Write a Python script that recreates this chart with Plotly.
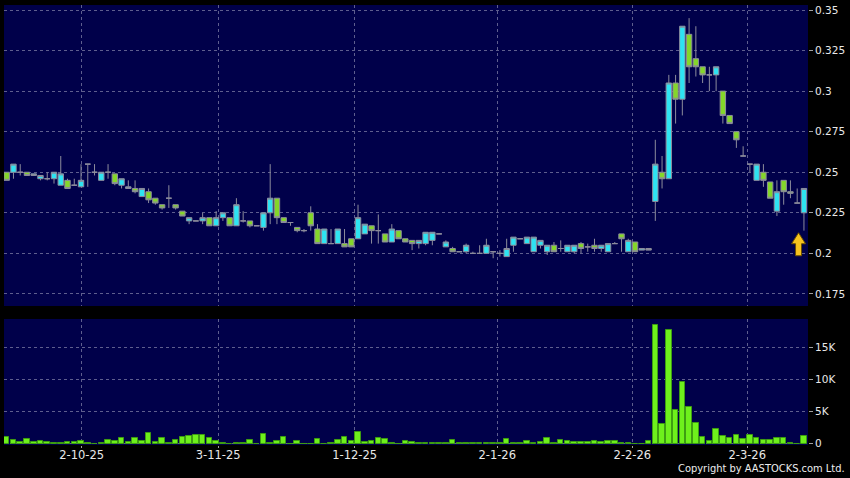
import plotly.graph_objects as go

# ---------------- data ----------------
opens = [0.250,0.250,0.250,0.250,0.248,0.246,0.246,0.246,0.242,0.245,
         0.242,0.241,0.255,0.250,0.245,0.250,0.249,0.242,0.240,0.240,
         0.235,0.238,0.234,0.230,0.234,0.230,0.226,0.220,0.220,0.220,
         0.222,0.217,0.222,0.222,0.217,0.220,0.220,0.217,0.216,0.225,
         0.234,0.222,0.219,0.216,0.214,0.225,0.215,0.206,0.206,0.206,
         0.206,0.209,0.209,0.212,0.217,0.214,0.212,0.207,0.214,0.209,
         0.208,0.206,0.206,0.208,0.212,0.204,0.203,0.201,0.201,0.200,
         0.200,0.200,0.201,0.200,0.198,0.205,0.209,0.206,0.201,0.205,
         0.201,0.205,0.203,0.201,0.201,0.206,0.204,0.205,0.203,0.201,
         0.206,0.212,0.201,0.207,0.202,0.203,0.232,0.250,0.246,0.305,
         0.295,0.335,0.320,0.315,0.310,0.310,0.300,0.285,0.275,0.260,
         0.255,0.245,0.250,0.244,0.226,0.245,0.238,0.231,0.225]
highs = [0.250,0.255,0.255,0.250,0.249,0.248,0.250,0.250,0.260,0.246,
         0.246,0.255,0.255,0.255,0.250,0.255,0.249,0.246,0.245,0.245,
         0.240,0.240,0.234,0.230,0.242,0.230,0.226,0.222,0.220,0.225,
         0.222,0.226,0.225,0.222,0.234,0.226,0.220,0.217,0.225,0.255,
         0.234,0.222,0.219,0.216,0.215,0.229,0.218,0.215,0.215,0.215,
         0.215,0.209,0.230,0.218,0.217,0.224,0.212,0.218,0.214,0.209,
         0.208,0.208,0.213,0.213,0.212,0.208,0.204,0.201,0.206,0.201,
         0.205,0.209,0.201,0.202,0.209,0.210,0.209,0.210,0.210,0.208,
         0.205,0.207,0.208,0.205,0.205,0.207,0.206,0.209,0.205,0.206,
         0.207,0.212,0.209,0.207,0.203,0.203,0.270,0.260,0.310,0.310,
         0.340,0.345,0.340,0.315,0.315,0.315,0.300,0.285,0.275,0.266,
         0.255,0.255,0.255,0.244,0.245,0.245,0.245,0.240,0.240]
lows = [0.245,0.246,0.248,0.248,0.248,0.245,0.245,0.243,0.242,0.240,
        0.242,0.241,0.241,0.248,0.245,0.246,0.242,0.240,0.240,0.237,
        0.235,0.231,0.230,0.227,0.228,0.227,0.223,0.218,0.220,0.218,
        0.217,0.217,0.220,0.217,0.217,0.219,0.216,0.217,0.214,0.218,
        0.218,0.219,0.217,0.213,0.213,0.214,0.206,0.206,0.206,0.206,
        0.204,0.204,0.209,0.212,0.206,0.206,0.207,0.207,0.209,0.207,
        0.202,0.203,0.205,0.205,0.212,0.204,0.201,0.201,0.200,0.200,
        0.200,0.200,0.197,0.198,0.198,0.201,0.209,0.206,0.201,0.203,
        0.199,0.201,0.201,0.201,0.200,0.200,0.201,0.201,0.201,0.201,
        0.206,0.201,0.201,0.201,0.202,0.202,0.220,0.240,0.246,0.280,
        0.285,0.305,0.309,0.305,0.300,0.300,0.280,0.280,0.265,0.260,
        0.250,0.245,0.241,0.234,0.223,0.230,0.234,0.231,0.214]
closes = [0.245,0.255,0.250,0.248,0.249,0.248,0.246,0.250,0.249,0.240,
          0.242,0.245,0.255,0.250,0.250,0.250,0.243,0.246,0.241,0.238,
          0.240,0.233,0.231,0.228,0.234,0.228,0.223,0.222,0.220,0.222,
          0.217,0.222,0.225,0.217,0.230,0.220,0.217,0.217,0.225,0.234,
          0.222,0.219,0.219,0.214,0.214,0.217,0.206,0.215,0.206,0.215,
          0.204,0.204,0.222,0.218,0.214,0.214,0.207,0.215,0.209,0.207,
          0.206,0.208,0.213,0.213,0.212,0.207,0.201,0.201,0.205,0.200,
          0.200,0.205,0.201,0.200,0.203,0.210,0.209,0.210,0.210,0.208,
          0.205,0.201,0.203,0.205,0.205,0.203,0.204,0.203,0.205,0.206,
          0.206,0.209,0.208,0.201,0.203,0.202,0.255,0.246,0.305,0.295,
          0.340,0.315,0.315,0.310,0.310,0.315,0.285,0.280,0.270,0.260,
          0.255,0.255,0.245,0.234,0.238,0.238,0.237,0.231,0.240]
volumes = [980,515,310,720,200,360,200,150,150,310,
           260,410,100,30,150,570,460,820,200,930,
           360,1700,260,930,150,620,1030,1130,1340,1290,
           880,460,100,30,150,150,515,30,1440,150,
           410,980,30,360,30,30,720,30,150,620,
           980,410,1800,310,410,820,720,150,30,360,
           310,150,100,100,50,50,520,50,50,100,
           50,150,50,100,680,100,50,420,100,200,
           940,100,570,360,200,200,200,460,260,360,
           360,100,150,30,30,360,18400,3000,17600,5300,
           9600,5650,3200,990,360,2240,1200,830,1300,780,
           1400,880,520,520,880,830,150,30,1200]
idx = list(range(len(closes)))

tick_pos = [11.1, 31.3, 51.5, 72.6, 92.6, 109.6]
tick_text = ["2-10-25", "3-11-25", "1-12-25", "2-1-26", "2-2-26", "2-3-26"]
price_ticks = [0.175, 0.2, 0.225, 0.25, 0.275, 0.3, 0.325, 0.35]
price_text = ["0.175", "0.2", "0.225", "0.25", "0.275", "0.3", "0.325", "0.35"]
vol_ticks = [0, 5000, 10000, 15000]
vol_text = ["0", "5K", "10K", "15K"]
marker_x = 117.2
marker_y = 0.2053

# ---------------- styles ----------------
NAVY = "#00004A"
GRID = "#5E5E8E"
WICK = "#8C8C9C"
UP = "#2EE3F2"
DOWN = "#84D62A"
VOL = "#6EF01C"
YFONT = dict(family="DejaVu Sans", size=10.5, color="#E8E8E8")
XFONT = dict(family="DejaVu Sans", size=11.5, color="#E8E8E8")

fig = go.Figure()
fig.add_trace(go.Candlestick(
    x=idx, open=opens, high=highs, low=lows, close=closes,
    xaxis="x", yaxis="y",
    increasing=dict(fillcolor=UP, line=dict(color=WICK, width=1)),
    decreasing=dict(fillcolor=DOWN, line=dict(color=WICK, width=1)),
    whiskerwidth=0, showlegend=False, hoverinfo="skip"))
fig.add_trace(go.Bar(
    x=idx, y=volumes, xaxis="x2", yaxis="y2", width=0.82,
    marker=dict(color=VOL, line=dict(color="#3E9E12", width=1)),
    showlegend=False, hoverinfo="skip"))

xcommon = dict(tickvals=tick_pos, showgrid=True,
               gridcolor=GRID, griddash="3px,3px", gridwidth=1,
               zeroline=False, showline=False, fixedrange=True)
fig.update_layout(
    width=850, height=478,
    paper_bgcolor="black", plot_bgcolor=NAVY,
    margin=dict(l=4, r=42, t=5, b=33),
    font=YFONT, boxgap=0.2, boxgroupgap=0, bargap=0,
    xaxis=dict(domain=[0, 1], anchor="y", range=[-0.4, 118.6],
               showticklabels=False, ticks="",
               rangeslider=dict(visible=False), **xcommon),
    xaxis2=dict(domain=[0, 1], anchor="y2", matches="x", ticktext=tick_text,
                ticks="outside", ticklen=2, tickcolor="#A0A0A0",
                ticklabelstandoff=-3, tickfont=XFONT, **xcommon),
    yaxis=dict(domain=[0.3159, 1], range=[0.16755, 0.35308], side="right",
               tickvals=price_ticks, ticktext=price_text, ticks="outside",
               ticklen=4, tickcolor="#A0A0A0", tickfont=YFONT,
               showgrid=True, gridcolor=GRID, griddash="3px,3px",
               zeroline=False, fixedrange=True),
    yaxis2=dict(domain=[0, 0.2864], range=[-200, 19350], side="right",
                tickvals=vol_ticks, ticktext=vol_text, ticks="outside",
                ticklen=4, tickcolor="#A0A0A0", tickfont=YFONT,
                showgrid=True, gridcolor=GRID, griddash="3px,3px",
                zeroline=False, fixedrange=True),
    shapes=[dict(type="path", xref="x", yref="y",
                 xsizemode="pixel", ysizemode="pixel",
                 xanchor=marker_x, yanchor=marker_y,
                 path="M0,12 L7,1 L3,1 L3,-11 L-3,-11 L-3,1 L-7,1 Z",
                 fillcolor="#F6C21E", line=dict(color="#6B4E00", width=1))],
    annotations=[dict(text="Copyright by AASTOCKS.com Ltd.", xref="paper",
                      yref="paper", x=1.048, y=-0.0735, xanchor="right",
                      yanchor="bottom", showarrow=False,
                      font=dict(family="DejaVu Sans Condensed", size=11,
                                color="#EEEEEE"))],
)
fig.write_html("out.html", config={"displayModeBar": False},
               post_script="document.body.style.margin='0';document.body.style.padding='0';")
